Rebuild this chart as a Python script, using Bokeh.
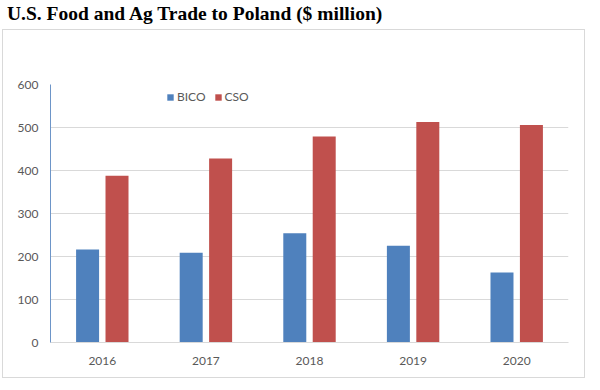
from bokeh.plotting import figure
from bokeh.models import (ColumnDataSource, FactorRange, Range1d, Legend, LegendItem,
                          FixedTicker, Div, Spacer)
from bokeh.layouts import column, row
from bokeh.transform import dodge
from bokeh.embed import file_html
from bokeh.resources import INLINE

years = ["2016", "2017", "2018", "2019", "2020"]
bico = [216, 209, 254, 225, 163]
cso = [388, 428, 479, 513, 506]
y_ticks = [0, 100, 200, 300, 400, 500, 600]

src = ColumnDataSource(data=dict(years=years, bico=bico, cso=cso))

p = figure(width=583, height=349, output_backend="svg", toolbar_location=None,
           x_range=FactorRange(factors=years, range_padding=0),
           y_range=Range1d(0, 600),
           min_border_left=47, min_border_right=18, min_border_top=54, min_border_bottom=37)
p.styles = {"border": "1px solid #d9d9d9", "box-sizing": "border-box"}

p.outline_line_color = None
p.background_fill_color = "white"
p.border_fill_color = "white"

r1 = p.vbar(x=dodge("years", -0.142, range=p.x_range), top="bico", width=0.222,
            source=src, color="#4f81bd", line_color=None)
r2 = p.vbar(x=dodge("years", 0.142, range=p.x_range), top="cso", width=0.222,
            source=src, color="#c0504d", line_color=None)

p.xgrid.grid_line_color = None
p.ygrid.grid_line_color = "#d9d9d9"
p.ygrid.grid_line_width = 1
p.yaxis.ticker = FixedTicker(ticks=y_ticks)

for ax in (p.xaxis[0], p.yaxis[0]):
    ax.major_tick_line_color = None
    ax.minor_tick_line_color = None
    ax.major_tick_out = 0
    ax.major_tick_in = 0
    ax.minor_tick_out = 0
    ax.minor_tick_in = 0
    ax.major_label_text_font = "Lato"
    ax.major_label_text_font_size = "12px"
    ax.major_label_text_color = "#595959"
p.yaxis.axis_line_color = "#6d95c8"
p.xaxis.axis_line_color = "#d9d9d9"
p.yaxis.major_label_standoff = 12
p.xaxis.major_label_standoff = 14

legend = Legend(items=[LegendItem(label="BICO", renderers=[r1]),
                       LegendItem(label="CSO", renderers=[r2])],
                orientation="horizontal", location=(116, 238),
                border_line_color=None, background_fill_alpha=0,
                glyph_width=8, glyph_height=8, label_standoff=3, spacing=8,
                padding=0, margin=0,
                label_text_font="Lato", label_text_font_size="12px",
                label_text_color="#595959")
p.add_layout(legend, "center")

title = Div(text='<div style="padding:4px 0 0 7px;line-height:20px;white-space:nowrap">'
                 'U.S. Food and Ag Trade to Poland ($ million)</div>',
            width=590, height=29, margin=0,
            styles={"font-family": "Liberation Serif", "font-weight": "bold",
                    "font-size": "19.5px", "color": "#000000"})

layout = column(title, row(Spacer(width=2, margin=0), p, spacing=0), spacing=0)

open("out.html", "w").write(file_html(layout, INLINE))
